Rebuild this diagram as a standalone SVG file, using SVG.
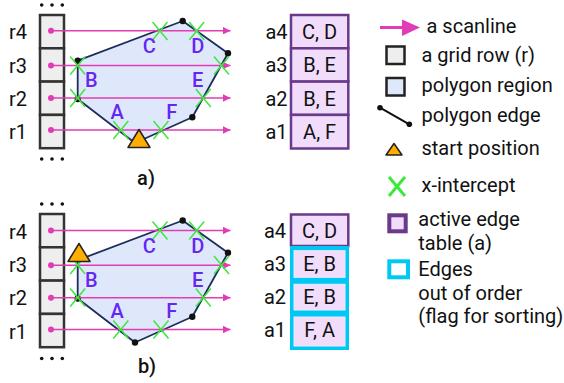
<svg xmlns="http://www.w3.org/2000/svg" width="564" height="383" viewBox="0 0 564 383">
<defs>
<marker id="ah" viewBox="0 0 10 10" refX="10" refY="5" markerWidth="5" markerHeight="5" markerUnits="strokeWidth" orient="auto"><path d="M0,0 L10,5 L0,10 z" fill="#e23cb4"/></marker>
<style>
text{font-family:Roboto,"Liberation Sans",sans-serif;font-size:20px;fill:#111}
.lbl{font-weight:500;fill:#6428f2;text-anchor:middle}
.rl{text-anchor:end}
.tc{text-anchor:middle}
.cell{fill:#eeeeee;stroke:#333;stroke-width:2.5}
.poly{fill:#dfe7fb;stroke:#1c2e5c;stroke-width:1.8;stroke-linejoin:round}
.scan{stroke:#e23cb4;stroke-width:1.5;fill:none;marker-end:url(#ah)}
.sdot{fill:#e23cb4}
.vx{fill:#111}
.xi{stroke:#3be83b;stroke-width:1.5;fill:none}
.tri{fill:#ffad00;stroke:#222;stroke-width:1.5;stroke-linejoin:round}
.aet{fill:#f2dcfb;stroke:#6a3a8a;stroke-width:2.5}
.dots{fill:#111}
</style>
</defs>

<!-- ===== Panel a ===== -->
<g id="grid-a">
<circle class="dots" cx="41.7" cy="5" r="1.8"/><circle class="dots" cx="52" cy="5" r="1.8"/><circle class="dots" cx="62.3" cy="5" r="1.8"/>
<rect class="cell" x="40" y="15" width="24" height="33.3"/>
<rect class="cell" x="40" y="48.3" width="24" height="33.3"/>
<rect class="cell" x="40" y="81.6" width="24" height="33.3"/>
<rect class="cell" x="40" y="114.9" width="24" height="33.3"/>
<circle class="dots" cx="41.7" cy="159" r="1.8"/><circle class="dots" cx="52" cy="159" r="1.8"/><circle class="dots" cx="62.3" cy="159" r="1.8"/>
<text class="rl" x="27" y="39">r4</text>
<text class="rl" x="27" y="72.5">r3</text>
<text class="rl" x="27" y="105.5">r2</text>
<text class="rl" x="27" y="139">r1</text>
</g>
<g id="polygon-a">
<polygon class="poly" points="77.7,60.7 182.7,21 228,53.3 192.3,117.3 135,143 77.7,99"/>
<circle class="vx" cx="77.7" cy="60.7" r="3.2"/><circle class="vx" cx="182.7" cy="21" r="3.2"/><circle class="vx" cx="228" cy="53.3" r="3.2"/><circle class="vx" cx="192.3" cy="117.3" r="3.2"/><circle class="vx" cx="77.7" cy="99" r="3.2"/>
</g>
<g id="scanlines-a">
<line class="scan" x1="51" y1="30.7" x2="230.5" y2="30.7"/><circle class="sdot" cx="51" cy="30.7" r="3"/>
<line class="scan" x1="51" y1="65.5" x2="230.5" y2="65.5"/><circle class="sdot" cx="51" cy="65.5" r="3"/>
<line class="scan" x1="51" y1="98" x2="230.5" y2="98"/><circle class="sdot" cx="51" cy="98" r="3"/>
<line class="scan" x1="51" y1="130" x2="230.5" y2="130"/><circle class="sdot" cx="51" cy="130" r="3"/>
</g>
<g id="intercepts-a">
<path class="xi" d="M152.5,22 l15,18 M167.5,22 l-15,18"/>
<path class="xi" d="M189.2,22 l15,18 M204.2,22 l-15,18"/>
<path class="xi" d="M70.2,56.5 l15,18 M85.2,56.5 l-15,18"/>
<path class="xi" d="M214,56.5 l15,18 M229,56.5 l-15,18"/>
<path class="xi" d="M70.2,89 l15,18 M85.2,89 l-15,18"/>
<path class="xi" d="M195.8,89 l15,18 M210.8,89 l-15,18"/>
<path class="xi" d="M113.3,121 l15,18 M128.3,121 l-15,18"/>
<path class="xi" d="M153.5,121 l15,18 M168.5,121 l-15,18"/>
</g>
<g id="edge-labels-a">
<text class="lbl" x="149.2" y="53.3">C</text>
<text class="lbl" x="197.8" y="53.3">D</text>
<text class="lbl" x="91.3" y="87.3">B</text>
<text class="lbl" x="197.7" y="87.3">E</text>
<text class="lbl" x="117.2" y="118.5">A</text>
<text class="lbl" x="171.7" y="118.5">F</text>
</g>
<g id="start-a"><polygon class="tri" points="139,129.5 150,147.5 128,147.5"/></g>
<g id="aet-a">
<rect class="aet" x="291" y="15" width="57.3" height="33.3"/>
<rect class="aet" x="291" y="48.3" width="57.3" height="33.3"/>
<rect class="aet" x="291" y="81.6" width="57.3" height="33.3"/>
<rect class="aet" x="291" y="114.9" width="57.3" height="33.6"/>
<text class="tc" x="319.6" y="38.8">C, D</text>
<text class="tc" x="319.6" y="72.2">B, E</text>
<text class="tc" x="319.6" y="105.5">B, E</text>
<text class="tc" x="319.6" y="139">A, F</text>
<text class="rl" x="287.5" y="38.8">a4</text>
<text class="rl" x="287.5" y="72.2">a3</text>
<text class="rl" x="287.5" y="105.5">a2</text>
<text class="rl" x="287.5" y="139">a1</text>
</g>
<text id="label-a" class="tc" x="146" y="185" style="font-weight:500">a)</text>

<!-- ===== Panel b ===== -->
<g id="grid-b">
<circle class="dots" cx="41.7" cy="204" r="1.8"/><circle class="dots" cx="52" cy="204" r="1.8"/><circle class="dots" cx="62.3" cy="204" r="1.8"/>
<rect class="cell" x="40" y="214" width="24" height="33.3"/>
<rect class="cell" x="40" y="247.3" width="24" height="33.3"/>
<rect class="cell" x="40" y="280.6" width="24" height="33.3"/>
<rect class="cell" x="40" y="313.9" width="24" height="33.3"/>
<circle class="dots" cx="41.7" cy="358.5" r="1.8"/><circle class="dots" cx="52" cy="358.5" r="1.8"/><circle class="dots" cx="62.3" cy="358.5" r="1.8"/>
<text class="rl" x="27" y="238.5">r4</text>
<text class="rl" x="27" y="272">r3</text>
<text class="rl" x="27" y="305">r2</text>
<text class="rl" x="27" y="338.5">r1</text>
</g>
<g id="polygon-b">
<polygon class="poly" points="77.7,260.2 182.7,220.5 228,252.8 192.3,316.8 135,342.5 77.7,298.5"/>
<circle class="vx" cx="182.7" cy="220.5" r="3.2"/><circle class="vx" cx="228" cy="252.8" r="3.2"/><circle class="vx" cx="192.3" cy="316.8" r="3.2"/><circle class="vx" cx="135" cy="342.5" r="3.2"/><circle class="vx" cx="77.7" cy="298.5" r="3.2"/>
</g>
<g id="scanlines-b">
<line class="scan" x1="51" y1="230.5" x2="230.5" y2="230.5"/><circle class="sdot" cx="51" cy="230.5" r="3"/>
<line class="scan" x1="51" y1="265.2" x2="230.5" y2="265.2"/><circle class="sdot" cx="51" cy="265.2" r="3"/>
<line class="scan" x1="51" y1="297.7" x2="230.5" y2="297.7"/><circle class="sdot" cx="51" cy="297.7" r="3"/>
<line class="scan" x1="51" y1="329.5" x2="230.5" y2="329.5"/><circle class="sdot" cx="51" cy="329.5" r="3"/>
</g>
<g id="intercepts-b">
<path class="xi" d="M152.5,221.5 l15,18 M167.5,221.5 l-15,18"/>
<path class="xi" d="M189.2,221.5 l15,18 M204.2,221.5 l-15,18"/>
<path class="xi" d="M70.2,256 l15,18 M85.2,256 l-15,18"/>
<path class="xi" d="M214,256 l15,18 M229,256 l-15,18"/>
<path class="xi" d="M70.2,288.5 l15,18 M85.2,288.5 l-15,18"/>
<path class="xi" d="M195.8,288.5 l15,18 M210.8,288.5 l-15,18"/>
<path class="xi" d="M113.3,320.5 l15,18 M128.3,320.5 l-15,18"/>
<path class="xi" d="M153.5,320.5 l15,18 M168.5,320.5 l-15,18"/>
</g>
<g id="edge-labels-b">
<text class="lbl" x="149.2" y="252.8">C</text>
<text class="lbl" x="197.8" y="252.8">D</text>
<text class="lbl" x="91.3" y="286.8">B</text>
<text class="lbl" x="197.7" y="286.8">E</text>
<text class="lbl" x="117.2" y="318">A</text>
<text class="lbl" x="171.7" y="318">F</text>
</g>
<g id="start-b"><polygon class="tri" points="79,243.5 90,261.5 68,261.5"/></g>
<g id="aet-b">
<rect class="aet" x="291" y="214.5" width="57.3" height="31.5"/>
<rect x="290" y="246" width="59" height="104" fill="#00c8f4"/>
<rect x="294" y="250.7" width="51" height="26.6" fill="#f2dcfb" stroke="#f4e8fb" stroke-width="1"/>
<rect x="294" y="284.3" width="51" height="25.7" fill="#f2dcfb" stroke="#f4e8fb" stroke-width="1"/>
<rect x="294" y="317" width="51" height="29" fill="#f2dcfb" stroke="#f4e8fb" stroke-width="1"/>
<text class="tc" x="319.6" y="237.7">C, D</text>
<text class="tc" x="319.6" y="271">E, B</text>
<text class="tc" x="319.6" y="304.3">E, B</text>
<text class="tc" x="319.6" y="337">F, A</text>
<text class="rl" x="286" y="237.7">a4</text>
<text class="rl" x="286" y="271">a3</text>
<text class="rl" x="286" y="304.3">a2</text>
<text class="rl" x="286" y="337">a1</text>
</g>
<text id="label-b" class="tc" x="147" y="373" style="font-weight:500">b)</text>

<!-- ===== Legend ===== -->
<g id="legend">
<g id="lg-scanline"><line x1="380" y1="27.5" x2="403" y2="27.5" stroke="#e23cb4" stroke-width="3"/><polygon points="402,19.5 420,27.5 402,36" fill="#e23cb4"/><text x="426.5" y="33.3">a scanline</text></g>
<g id="lg-grid"><rect x="386.5" y="46.5" width="18" height="17.5" fill="#eeeeee" stroke="#222" stroke-width="2.5"/><text x="421.5" y="62.3">a grid row (r)</text></g>
<g id="lg-poly"><rect x="386.5" y="78" width="18" height="17.5" fill="#dfe7fb" stroke="#222" stroke-width="2.5"/><text x="421.5" y="91.7">polygon region</text></g>
<g id="lg-edge"><line x1="380" y1="107.7" x2="409.3" y2="124.3" stroke="#111" stroke-width="2"/><circle cx="380" cy="107.7" r="2.8" fill="#111"/><circle cx="409.3" cy="124.3" r="2.8" fill="#111"/><text x="421.5" y="122">polygon edge</text></g>
<g id="lg-start"><polygon class="tri" points="394,143.5 402,155 386,155"/><text x="421.5" y="154.5">start position</text></g>
<g id="lg-x"><path d="M389,177 l16,19 M405,177 l-16,19" stroke="#3be83b" stroke-width="3" fill="none"/><text x="421.5" y="191.5">x-intercept</text></g>
<g id="lg-aet"><rect x="389.3" y="215.3" width="16.4" height="16" fill="#f2dcfb" stroke="#6a3a8a" stroke-width="4"/><text x="418.3" y="226">active edge</text><text x="418.3" y="249.5">table (a)</text></g>
<g id="lg-ooo"><rect x="389.3" y="261.3" width="18.7" height="16" fill="#ffffff" stroke="#00c8f4" stroke-width="4"/><text x="418.3" y="276">Edges</text><text x="418.3" y="299.8">out of order</text><text x="418.3" y="323.3">(flag for sorting)</text></g>
</g>
</svg>
